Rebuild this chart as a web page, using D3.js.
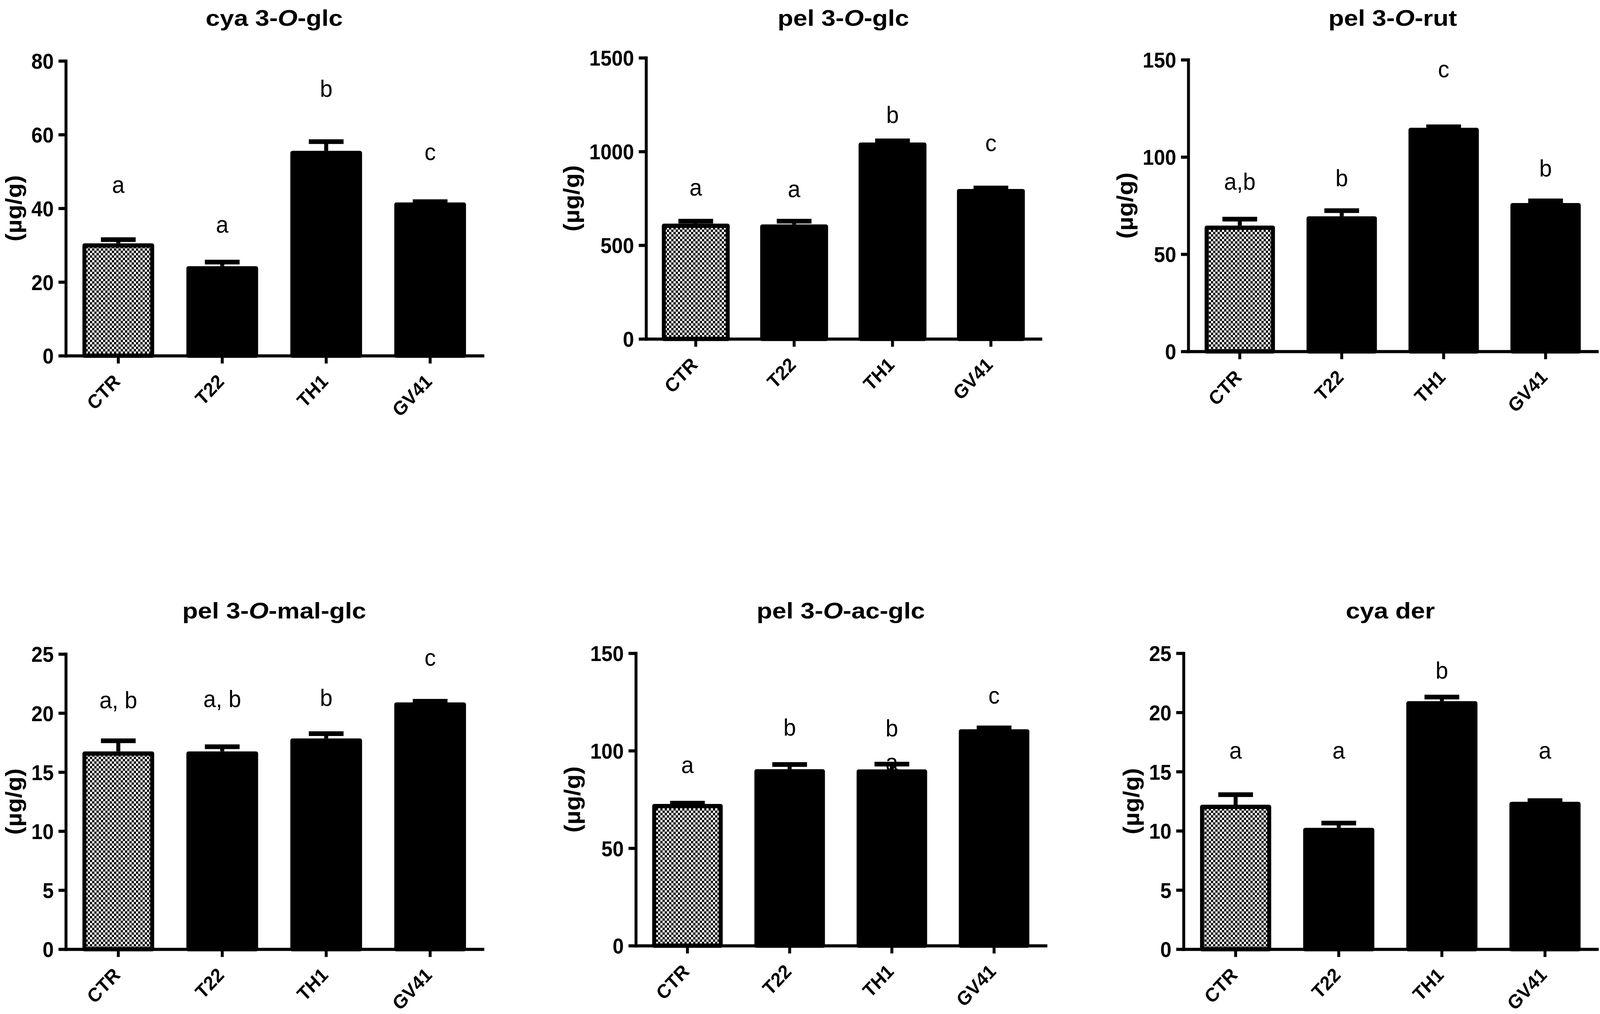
<!DOCTYPE html>
<html>
<head>
<meta charset="utf-8">
<title>Anthocyanins by treatment</title>
<script src="https://cdn.jsdelivr.net/npm/d3@7"></script>
<style>
  html, body { margin: 0; padding: 0; overflow: hidden; background: #fff; }
  #fig { display: block; width: 100vw; height: 100vh; }
  text { font-family: "Liberation Sans", Arial, sans-serif; fill: #000; }
</style>
</head>
<body>
<!-- drawn in 4376x2597 units and stretched to whatever viewport the browser gives -->
<svg id="fig" viewBox="0 0 4376 2597" preserveAspectRatio="none"></svg>
<script>
const groups = ["CTR", "T22", "TH1", "GV41"];

// title pieces: plain, italic, plain
const titles = [
    ["cya 3-", "O", "-glc"],
    ["pel 3-", "O", "-glc"],
    ["pel 3-", "O", "-rut"],
    ["pel 3-", "O", "-mal-glc"],
    ["pel 3-", "O", "-ac-glc"],
    ["cya der", "", ""]
];

const means = [
    [30.5, 24.3, 55.6, 41.6],
    [615, 611, 1048, 800],
    [64.7, 69.5, 115.0, 76.3],
    [16.75, 16.75, 17.85, 20.9],
    [72.7, 90.5, 90.4, 111.0],
    [12.2, 10.25, 20.95, 12.45]
];
const sems = [
    [1.0, 1.1, 2.5, 0.2],
    [13, 17, 9, 5],
    [3.3, 2.9, 0.5, 1.1],
    [0.9, 0.4, 0.4, 0.1],
    [0.4, 2.4, 2.7, 0.7],
    [0.85, 0.4, 0.35, 0.1]
];
const yMax = [80, 1500, 150, 25, 150, 25];
const yStep = [20, 500, 50, 5, 50, 5];

const letters = [
    ["a", "a", "b", "c"],
    ["a", "a", "b", "c"],
    ["a,b", "b", "c", "b"],
    ["a, b", "a, b", "b", "c"],
    ["a", "b", "b", "c"],
    ["a", "a", "b", "a"]
];
// baseline of each letter, in data units
const letterAt = [
    [44.2, 33.4, 70.3, 53.1],
    [765, 756, 1152, 1002],
    [83.1, 85.0, 141, 90.0],
    [20.4, 20.5, 20.6, 24.0],
    [88.6, 107.7, 107.4, 124.2],
    [16.1, 16.1, 22.85, 16.1]
];
// stray "a" half hidden behind the TH1 error cap of pel 3-O-ac-glc
const strayLetter = { panel: 4, group: "TH1", text: "a", at: 90 };

// panel frames (pixels): y axis x, x axis end, top tick y, zero y
const frames = [
    { x0: 180,  x1: 1320, yt: 156,  y0: 911 },
    { x0: 1767, x1: 2846, yt: 148,  y0: 868 },
    { x0: 3250, x1: 4368, yt: 153,  y0: 900 },
    { x0: 180,  x1: 1320, yt: 1675, y0: 2431 },
    { x0: 1739, x1: 2860, yt: 1673, y0: 2422 },
    { x0: 3237, x1: 4368, yt: 1673, y0: 2431 }
];
const titleY = [66, 66, 66, 1584, 1584, 1584];

const svg = d3.select("#fig");

const pat = svg.append("defs").append("pattern")
    .attr("id", "checker")
    .attr("patternUnits", "userSpaceOnUse")
    .attr("width", 12).attr("height", 12);
pat.append("rect").attr("width", 12).attr("height", 12).attr("fill", "#fff");
pat.append("rect").attr("width", 6).attr("height", 6).attr("fill", "#000");
pat.append("rect").attr("x", 6).attr("y", 6).attr("width", 6).attr("height", 6).attr("fill", "#000");

const barStroke = 11;

frames.forEach((f, i) => {
    const g = svg.append("g");
    const x = d3.scaleBand().domain(groups).range([f.x0, f.x1])
        .paddingInner(0.31).paddingOuter(0.16);
    const y = d3.scaleLinear().domain([0, yMax[i]]).range([f.y0, f.yt]);
    const rows = groups.map((k, j) => ({ k, m: means[i][j], e: sems[i][j], lab: letters[i][j], la: letterAt[i][j] }));

    // significance letters
    g.selectAll(".sig").data(rows).enter().append("text")
        .attr("class", "sig")
        .attr("x", d => x(d.k) + x.bandwidth() / 2)
        .attr("y", d => y(d.la))
        .attr("text-anchor", "middle")
        .style("font-size", "62px")
        .text(d => d.lab);
    if (strayLetter.panel === i) {
        g.append("text")
            .attr("x", x(strayLetter.group) + x.bandwidth() / 2)
            .attr("y", y(strayLetter.at))
            .attr("text-anchor", "middle")
            .style("font-size", "62px")
            .text(strayLetter.text);
    }

    // error bars (upper only)
    const cap = 95;
    g.selectAll(".err").data(rows).enter().append("line")
        .attr("x1", d => x(d.k) + x.bandwidth() / 2)
        .attr("x2", d => x(d.k) + x.bandwidth() / 2)
        .attr("y1", d => y(d.m))
        .attr("y2", d => y(d.m + d.e))
        .attr("stroke", "#000").attr("stroke-width", 11);
    g.selectAll(".cap").data(rows).enter().append("line")
        .attr("x1", d => x(d.k) + x.bandwidth() / 2 - cap / 2)
        .attr("x2", d => x(d.k) + x.bandwidth() / 2 + cap / 2)
        .attr("y1", d => y(d.m + d.e))
        .attr("y2", d => y(d.m + d.e))
        .attr("stroke", "#000").attr("stroke-width", 12);

    // bars
    g.selectAll(".bar").data(rows).enter().append("rect")
        .attr("x", d => x(d.k) + barStroke / 2)
        .attr("width", x.bandwidth() - barStroke)
        .attr("y", d => y(d.m) + barStroke / 2)
        .attr("height", d => f.y0 - y(d.m) - barStroke / 2)
        .attr("fill", (d, j) => j === 0 ? "url(#checker)" : "#000")
        .attr("stroke", "#000")
        .attr("stroke-width", barStroke)
        .attr("stroke-linejoin", "round");

    // y axis
    const ya = g.append("g")
        .attr("transform", `translate(${f.x0},0)`)
        .call(d3.axisLeft(y)
            .tickValues(d3.range(0, yMax[i] + yStep[i] / 2, yStep[i]))
            .tickFormat(d3.format("d"))
            .tickSize(20).tickSizeOuter(0).tickPadding(13));
    ya.attr("font-family", null).attr("font-size", null);
    ya.select(".domain").attr("stroke-width", 8).attr("stroke-linecap", "square");
    ya.selectAll(".tick line").attr("stroke-width", 8);
    ya.selectAll(".tick text")
        .style("font-size", "55px").style("font-weight", "bold")
        .attr("dy", "0.36em");

    // x axis
    const xa = g.append("g")
        .attr("transform", `translate(0,${f.y0})`)
        .call(d3.axisBottom(x).tickSize(20).tickSizeOuter(0));
    xa.attr("font-family", null).attr("font-size", null);
    xa.select(".domain").attr("stroke-width", 8).attr("stroke-linecap", "square");
    xa.selectAll(".tick line").attr("stroke-width", 8);
    xa.selectAll(".tick text")
        .attr("x", 0).attr("y", 0).attr("dy", null)
        .attr("transform", "translate(8,69) rotate(-45)")
        .attr("text-anchor", "end")
        .style("font-size", "50px").style("font-weight", "bold");

    // title: the lettering in the figure is wider than plain Arial bold
    const cxT = (f.x0 + f.x1) / 2;
    const t = g.append("text")
        .attr("transform", `translate(${cxT},${titleY[i]}) scale(1.2,1)`)
        .attr("text-anchor", "middle")
        .style("font-size", "58px").style("font-weight", "bold");
    t.append("tspan").text(titles[i][0]);
    if (titles[i][1]) t.append("tspan").style("font-style", "italic").text(titles[i][1]);
    if (titles[i][2]) t.append("tspan").text(titles[i][2]);

    // y label, placed left of the widest tick label
    let wMax = 0;
    ya.selectAll(".tick text").each(function () { wMax = Math.max(wMax, this.getBBox().width); });
    const cx = f.x0 - 33 - wMax - 46;
    g.append("text")
        .attr("transform", `translate(${cx},${(f.y0 + f.yt) / 2}) rotate(-90)`)
        .attr("text-anchor", "middle")
        .attr("dy", "0.3em")
        .style("font-size", "62px").style("font-weight", "bold")
        .text("(\u00b5g/g)");
});
</script>
</body>
</html>
